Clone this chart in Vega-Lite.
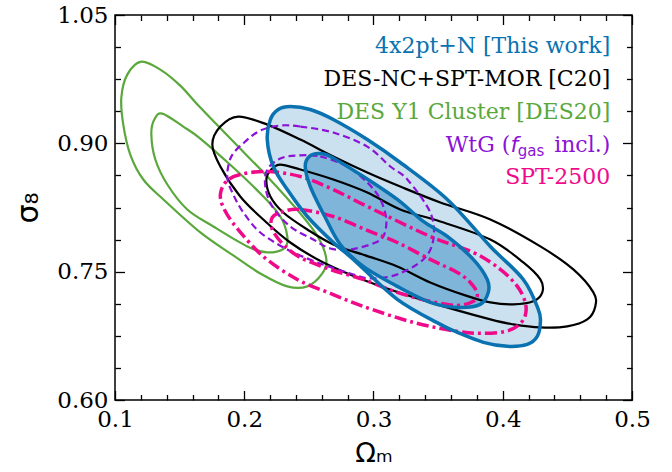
{
  "$schema": "https://vega.github.io/schema/vega-lite/v6.json",
  "width": 517,
  "height": 385,
  "autosize": "none",
  "padding": {"left": 115, "top": 15, "right": 40, "bottom": 72},
  "background": "white",
  "config": {
    "view": {"stroke": "black", "strokeWidth": 1.5},
    "axis": {"grid": false, "domain": false, "tickColor": "black", "tickWidth": 1.3, "labelFont": "DejaVu Serif", "labelFontSize": 23, "labelColor": "black", "titleColor": "black", "titleFontWeight": "normal", "labelFlush": false, "labelOverlap": false, "labelBound": false}
  },
  "datasets": {
    "contours": [
      {"c":"go","i":0,"om":0.1203,"s8":0.9955},{"c":"go","i":1,"om":0.1350,"s8":0.9862},{"c":"go","i":2,"om":0.1505,"s8":0.9675},{"c":"go","i":3,"om":0.1660,"s8":0.9418},{"c":"go","i":4,"om":0.1915,"s8":0.9021},{"c":"go","i":5,"om":0.2178,"s8":0.8612},{"c":"go","i":6,"om":0.2434,"s8":0.8180},{"c":"go","i":7,"om":0.2573,"s8":0.7900},{"c":"go","i":8,"om":0.2635,"s8":0.7643},{"c":"go","i":9,"om":0.2604,"s8":0.7479},{"c":"go","i":10,"om":0.2488,"s8":0.7328},{"c":"go","i":11,"om":0.2333,"s8":0.7328},{"c":"go","i":12,"om":0.2124,"s8":0.7479},{"c":"go","i":13,"om":0.1915,"s8":0.7690},{"c":"go","i":14,"om":0.1660,"s8":0.7958},{"c":"go","i":15,"om":0.1374,"s8":0.8344},{"c":"go","i":16,"om":0.1219,"s8":0.8577},{"c":"go","i":17,"om":0.1118,"s8":0.8869},{"c":"go","i":18,"om":0.1064,"s8":0.9219},{"c":"go","i":19,"om":0.1049,"s8":0.9535},{"c":"go","i":20,"om":0.1095,"s8":0.9803},
      {"c":"gi","i":0,"om":0.1366,"s8":0.9348},{"c":"gi","i":1,"om":0.1528,"s8":0.9196},{"c":"gi","i":2,"om":0.1660,"s8":0.9056},{"c":"gi","i":3,"om":0.1915,"s8":0.8717},{"c":"gi","i":4,"om":0.2140,"s8":0.8390},{"c":"gi","i":5,"om":0.2279,"s8":0.8145},{"c":"gi","i":6,"om":0.2333,"s8":0.7912},{"c":"gi","i":7,"om":0.2310,"s8":0.7771},{"c":"gi","i":8,"om":0.2178,"s8":0.7725},{"c":"gi","i":9,"om":0.2024,"s8":0.7795},{"c":"gi","i":10,"om":0.1761,"s8":0.8028},{"c":"gi","i":11,"om":0.1559,"s8":0.8227},{"c":"gi","i":12,"om":0.1405,"s8":0.8519},{"c":"gi","i":13,"om":0.1312,"s8":0.8811},{"c":"gi","i":14,"om":0.1281,"s8":0.9103},{"c":"gi","i":15,"om":0.1304,"s8":0.9278},
      {"c":"ko","i":0,"om":0.1954,"s8":0.9313},{"c":"ko","i":1,"om":0.2178,"s8":0.9219},{"c":"ko","i":2,"om":0.2434,"s8":0.9044},{"c":"ko","i":3,"om":0.2689,"s8":0.8846},{"c":"ko","i":4,"om":0.2952,"s8":0.8659},{"c":"ko","i":5,"om":0.3207,"s8":0.8495},{"c":"ko","i":6,"om":0.3517,"s8":0.8309},{"c":"ko","i":7,"om":0.3904,"s8":0.8110},{"c":"ko","i":8,"om":0.4291,"s8":0.7795},{"c":"ko","i":9,"om":0.4546,"s8":0.7526},{"c":"ko","i":10,"om":0.4701,"s8":0.7258},{"c":"ko","i":11,"om":0.4716,"s8":0.7094},{"c":"ko","i":12,"om":0.4654,"s8":0.6942},{"c":"ko","i":13,"om":0.4499,"s8":0.6861},{"c":"ko","i":14,"om":0.4291,"s8":0.6849},{"c":"ko","i":15,"om":0.4082,"s8":0.6884},{"c":"ko","i":16,"om":0.3904,"s8":0.6942},{"c":"ko","i":17,"om":0.3439,"s8":0.7141},{"c":"ko","i":18,"om":0.2975,"s8":0.7374},{"c":"ko","i":19,"om":0.2612,"s8":0.7608},{"c":"ko","i":20,"om":0.2356,"s8":0.7841},{"c":"ko","i":21,"om":0.2147,"s8":0.8110},{"c":"ko","i":22,"om":0.1969,"s8":0.8379},{"c":"ko","i":23,"om":0.1815,"s8":0.8729},{"c":"ko","i":24,"om":0.1753,"s8":0.8986},{"c":"ko","i":25,"om":0.1815,"s8":0.9196},
      {"c":"ki","i":0,"om":0.2279,"s8":0.8752},{"c":"ki","i":1,"om":0.2434,"s8":0.8694},{"c":"ki","i":2,"om":0.2689,"s8":0.8577},{"c":"ki","i":3,"om":0.2952,"s8":0.8425},{"c":"ki","i":4,"om":0.3207,"s8":0.8227},{"c":"ki","i":5,"om":0.3517,"s8":0.8087},{"c":"ki","i":6,"om":0.3904,"s8":0.7876},{"c":"ki","i":7,"om":0.4159,"s8":0.7608},{"c":"ki","i":8,"om":0.4291,"s8":0.7409},{"c":"ki","i":9,"om":0.4306,"s8":0.7258},{"c":"ki","i":10,"om":0.4236,"s8":0.7153},{"c":"ki","i":11,"om":0.4082,"s8":0.7117},{"c":"ki","i":12,"om":0.3904,"s8":0.7141},{"c":"ki","i":13,"om":0.3710,"s8":0.7223},{"c":"ki","i":14,"om":0.3439,"s8":0.7374},{"c":"ki","i":15,"om":0.3184,"s8":0.7561},{"c":"ki","i":16,"om":0.2937,"s8":0.7690},{"c":"ki","i":17,"om":0.2689,"s8":0.7818},{"c":"ki","i":18,"om":0.2488,"s8":0.7993},{"c":"ki","i":19,"om":0.2302,"s8":0.8192},{"c":"ki","i":20,"om":0.2202,"s8":0.8379},{"c":"ki","i":21,"om":0.2171,"s8":0.8577},{"c":"ki","i":22,"om":0.2209,"s8":0.8694},
      {"c":"bo","i":0,"om":0.2356,"s8":0.9430},{"c":"bo","i":1,"om":0.2511,"s8":0.9395},{"c":"bo","i":2,"om":0.2689,"s8":0.9278},{"c":"bo","i":3,"om":0.2952,"s8":0.9044},{"c":"bo","i":4,"om":0.3207,"s8":0.8776},{"c":"bo","i":5,"om":0.3571,"s8":0.8344},{"c":"bo","i":6,"om":0.3904,"s8":0.7795},{"c":"bo","i":7,"om":0.4159,"s8":0.7409},{"c":"bo","i":8,"om":0.4275,"s8":0.7059},{"c":"bo","i":9,"om":0.4291,"s8":0.6907},{"c":"bo","i":10,"om":0.4267,"s8":0.6744},{"c":"bo","i":11,"om":0.4190,"s8":0.6650},{"c":"bo","i":12,"om":0.4035,"s8":0.6627},{"c":"bo","i":13,"om":0.3850,"s8":0.6674},{"c":"bo","i":14,"om":0.3648,"s8":0.6791},{"c":"bo","i":15,"om":0.3517,"s8":0.6884},{"c":"bo","i":16,"om":0.3184,"s8":0.7176},{"c":"bo","i":17,"om":0.2844,"s8":0.7643},{"c":"bo","i":18,"om":0.2689,"s8":0.7841},{"c":"bo","i":19,"om":0.2488,"s8":0.8145},{"c":"bo","i":20,"om":0.2333,"s8":0.8460},{"c":"bo","i":21,"om":0.2225,"s8":0.8729},{"c":"bo","i":22,"om":0.2178,"s8":0.9044},{"c":"bo","i":23,"om":0.2202,"s8":0.9278},{"c":"bo","i":24,"om":0.2263,"s8":0.9395},
      {"c":"bi","i":0,"om":0.2573,"s8":0.8881},{"c":"bi","i":1,"om":0.2666,"s8":0.8846},{"c":"bi","i":2,"om":0.2921,"s8":0.8612},{"c":"bi","i":3,"om":0.3184,"s8":0.8344},{"c":"bi","i":4,"om":0.3385,"s8":0.8087},{"c":"bi","i":5,"om":0.3571,"s8":0.7912},{"c":"bi","i":6,"om":0.3772,"s8":0.7643},{"c":"bi","i":7,"om":0.3880,"s8":0.7409},{"c":"bi","i":8,"om":0.3888,"s8":0.7258},{"c":"bi","i":9,"om":0.3826,"s8":0.7117},{"c":"bi","i":10,"om":0.3648,"s8":0.7082},{"c":"bi","i":11,"om":0.3439,"s8":0.7141},{"c":"bi","i":12,"om":0.3184,"s8":0.7328},{"c":"bi","i":13,"om":0.2921,"s8":0.7561},{"c":"bi","i":14,"om":0.2743,"s8":0.7818},{"c":"bi","i":15,"om":0.2627,"s8":0.8133},{"c":"bi","i":16,"om":0.2511,"s8":0.8495},{"c":"bi","i":17,"om":0.2472,"s8":0.8729},{"c":"bi","i":18,"om":0.2503,"s8":0.8846},
      {"c":"po","i":0,"om":0.2279,"s8":0.9208},{"c":"po","i":1,"om":0.2434,"s8":0.9196},{"c":"po","i":2,"om":0.2689,"s8":0.9126},{"c":"po","i":3,"om":0.2952,"s8":0.8962},{"c":"po","i":4,"om":0.3130,"s8":0.8729},{"c":"po","i":5,"om":0.3262,"s8":0.8577},{"c":"po","i":6,"om":0.3439,"s8":0.8192},{"c":"po","i":7,"om":0.3463,"s8":0.7876},{"c":"po","i":8,"om":0.3385,"s8":0.7643},{"c":"po","i":9,"om":0.3184,"s8":0.7468},{"c":"po","i":10,"om":0.2975,"s8":0.7421},{"c":"po","i":11,"om":0.2820,"s8":0.7479},{"c":"po","i":12,"om":0.2565,"s8":0.7608},{"c":"po","i":13,"om":0.2333,"s8":0.7760},{"c":"po","i":14,"om":0.2124,"s8":0.7958},{"c":"po","i":15,"om":0.1993,"s8":0.8192},{"c":"po","i":16,"om":0.1915,"s8":0.8402},{"c":"po","i":17,"om":0.1869,"s8":0.8600},{"c":"po","i":18,"om":0.1900,"s8":0.8846},{"c":"po","i":19,"om":0.2008,"s8":0.9021},{"c":"po","i":20,"om":0.2124,"s8":0.9149},
      {"c":"pi","i":0,"om":0.2410,"s8":0.8857},{"c":"pi","i":1,"om":0.2588,"s8":0.8846},{"c":"pi","i":2,"om":0.2797,"s8":0.8729},{"c":"pi","i":3,"om":0.2952,"s8":0.8542},{"c":"pi","i":4,"om":0.3053,"s8":0.8344},{"c":"pi","i":5,"om":0.3099,"s8":0.8110},{"c":"pi","i":6,"om":0.3076,"s8":0.7912},{"c":"pi","i":7,"om":0.2998,"s8":0.7830},{"c":"pi","i":8,"om":0.2820,"s8":0.7760},{"c":"pi","i":9,"om":0.2666,"s8":0.7771},{"c":"pi","i":10,"om":0.2534,"s8":0.7876},{"c":"pi","i":11,"om":0.2356,"s8":0.8028},{"c":"pi","i":12,"om":0.2217,"s8":0.8262},{"c":"pi","i":13,"om":0.2163,"s8":0.8495},{"c":"pi","i":14,"om":0.2178,"s8":0.8694},{"c":"pi","i":15,"om":0.2279,"s8":0.8822},
      {"c":"so","i":0,"om":0.1969,"s8":0.8635},{"c":"so","i":1,"om":0.2178,"s8":0.8671},{"c":"so","i":2,"om":0.2434,"s8":0.8612},{"c":"so","i":3,"om":0.2689,"s8":0.8460},{"c":"so","i":4,"om":0.2952,"s8":0.8262},{"c":"so","i":5,"om":0.3439,"s8":0.7912},{"c":"so","i":6,"om":0.3772,"s8":0.7725},{"c":"so","i":7,"om":0.3981,"s8":0.7526},{"c":"so","i":8,"om":0.4113,"s8":0.7328},{"c":"so","i":9,"om":0.4174,"s8":0.7141},{"c":"so","i":10,"om":0.4174,"s8":0.6989},{"c":"so","i":11,"om":0.4120,"s8":0.6872},{"c":"so","i":12,"om":0.4020,"s8":0.6802},{"c":"so","i":13,"om":0.3850,"s8":0.6779},{"c":"so","i":14,"om":0.3648,"s8":0.6802},{"c":"so","i":15,"om":0.3308,"s8":0.6907},{"c":"so","i":16,"om":0.2921,"s8":0.7094},{"c":"so","i":17,"om":0.2666,"s8":0.7246},{"c":"so","i":18,"om":0.2410,"s8":0.7409},{"c":"so","i":19,"om":0.2147,"s8":0.7678},{"c":"so","i":20,"om":0.1946,"s8":0.8005},{"c":"so","i":21,"om":0.1846,"s8":0.8227},{"c":"so","i":22,"om":0.1815,"s8":0.8402},{"c":"so","i":23,"om":0.1861,"s8":0.8554},
      {"c":"si","i":0,"om":0.2302,"s8":0.8203},{"c":"si","i":1,"om":0.2434,"s8":0.8227},{"c":"si","i":2,"om":0.2689,"s8":0.8145},{"c":"si","i":3,"om":0.2952,"s8":0.7982},{"c":"si","i":4,"om":0.3184,"s8":0.7841},{"c":"si","i":5,"om":0.3439,"s8":0.7643},{"c":"si","i":6,"om":0.3648,"s8":0.7491},{"c":"si","i":7,"om":0.3749,"s8":0.7374},{"c":"si","i":8,"om":0.3803,"s8":0.7246},{"c":"si","i":9,"om":0.3772,"s8":0.7153},{"c":"si","i":10,"om":0.3648,"s8":0.7106},{"c":"si","i":11,"om":0.3439,"s8":0.7153},{"c":"si","i":12,"om":0.3184,"s8":0.7258},{"c":"si","i":13,"om":0.2921,"s8":0.7409},{"c":"si","i":14,"om":0.2666,"s8":0.7526},{"c":"si","i":15,"om":0.2434,"s8":0.7666},{"c":"si","i":16,"om":0.2302,"s8":0.7818},{"c":"si","i":17,"om":0.2217,"s8":0.7993},{"c":"si","i":18,"om":0.2217,"s8":0.8133}
    ],
    "labels": [
      {"p":"m","k":"b","t":"4x2pt+N [This work]","om":0.4832,"s8":1.0060},
      {"p":"m","k":"k","t":"DES-NC+SPT-MOR [C20]","om":0.4832,"s8":0.9675},
      {"p":"m","k":"g","t":"DES Y1 Cluster [DES20]","om":0.4832,"s8":0.9289},
      {"p":"w1","k":"p","t":"WtG (","om":0.4832,"s8":0.8904},
      {"p":"w2","k":"p","t":"f","om":0.4832,"s8":0.8904},
      {"p":"w3","k":"p","t":"gas","om":0.4832,"s8":0.8904},
      {"p":"w4","k":"p","t":"incl.)","om":0.4832,"s8":0.8904},
      {"p":"m","k":"s","t":"SPT-2500","om":0.4832,"s8":0.8519}
    ]
  },
  "data": {"name": "contours"},
  "encoding": {
    "x": {"field": "om", "type": "quantitative", "scale": {"domain": [0.1, 0.5], "nice": false, "zero": false}, "axis": null},
    "y": {"field": "s8", "type": "quantitative", "scale": {"domain": [0.6, 1.05], "nice": false, "zero": false}, "axis": null},
    "order": {"field": "i", "type": "quantitative"}
  },
  "resolve": {"axis": {"x": "independent", "y": "independent"}},
  "layer": [
    {"transform": [{"filter": "datum.c == 'bo'"}], "mark": {"type": "line", "interpolate": "cardinal-closed", "fill": "#cbe1ef", "strokeOpacity": 0}},
    {"transform": [{"filter": "datum.c == 'bi'"}], "mark": {"type": "line", "interpolate": "cardinal-closed", "fill": "#7fb5d9", "strokeOpacity": 0}},
    {"transform": [{"filter": "datum.c == 'go' || datum.c == 'gi'"}], "mark": {"type": "line", "interpolate": "cardinal-closed", "stroke": "#5aa83c", "strokeWidth": 2.2}, "encoding": {"detail": {"field": "c"}}},
    {"transform": [{"filter": "datum.c == 'ko' || datum.c == 'ki'"}], "mark": {"type": "line", "interpolate": "cardinal-closed", "stroke": "black", "strokeWidth": 2.2}, "encoding": {"detail": {"field": "c"}}},
    {"transform": [{"filter": "datum.c == 'po' || datum.c == 'pi'"}], "mark": {"type": "line", "interpolate": "cardinal-closed", "stroke": "#8b12d6", "strokeWidth": 2.2, "strokeDash": [7, 4]}, "encoding": {"detail": {"field": "c"}}},
    {"transform": [{"filter": "datum.c == 'so' || datum.c == 'si'"}], "mark": {"type": "line", "interpolate": "cardinal-closed", "stroke": "#f00a8a", "strokeWidth": 3.5, "strokeDash": [12, 4, 3, 4]}, "encoding": {"detail": {"field": "c"}}},
    {"transform": [{"filter": "datum.c == 'bo' || datum.c == 'bi'"}], "mark": {"type": "line", "interpolate": "cardinal-closed", "stroke": "#0a72b0", "strokeWidth": 3.5}, "encoding": {"detail": {"field": "c"}}},
    {"transform": [{"filter": "datum.c == 'go'"}], "mark": {"type": "point", "opacity": 0},
     "encoding": {
       "x": {"field": "om", "type": "quantitative", "scale": {"domain": [0.1, 0.5], "nice": false, "zero": false}, "axis": {"orient": "bottom", "values": [0.1, 0.2, 0.3, 0.4, 0.5], "format": ".1f", "tickSize": -9.5, "labelPadding": 17.5, "title": "Ωₘ", "titleFont": "DejaVu Sans", "titleFontSize": 27, "titlePadding": 9}},
       "y": {"field": "s8", "type": "quantitative", "scale": {"domain": [0.6, 1.05], "nice": false, "zero": false}, "axis": {"orient": "left", "values": [0.6, 0.75, 0.9, 1.05], "format": ".2f", "tickSize": -9.5, "labelPadding": 16.5, "title": "σ₈", "titleFont": "DejaVu Sans", "titleFontSize": 30, "titlePadding": 13}}
     }},
    {"transform": [{"filter": "datum.c == 'go'"}], "mark": {"type": "point", "opacity": 0},
     "encoding": {
       "x": {"field": "om", "type": "quantitative", "scale": {"domain": [0.1, 0.5], "nice": false, "zero": false}, "axis": {"orient": "bottom", "values": [0.12, 0.14, 0.16, 0.18, 0.22, 0.24, 0.26, 0.28, 0.32, 0.34, 0.36, 0.38, 0.42, 0.44, 0.46, 0.48], "labels": false, "tickSize": -5.5, "title": null}},
       "y": {"field": "s8", "type": "quantitative", "scale": {"domain": [0.6, 1.05], "nice": false, "zero": false}, "axis": {"orient": "left", "values": [0.6375, 0.675, 0.7125, 0.7875, 0.825, 0.8625, 0.9375, 0.975, 1.0125], "labels": false, "tickSize": -5.5, "title": null}}
     }},
    {"transform": [{"filter": "datum.c == 'go'"}], "mark": {"type": "point", "opacity": 0},
     "encoding": {
       "x": {"field": "om", "type": "quantitative", "scale": {"domain": [0.1, 0.5], "nice": false, "zero": false}, "axis": {"orient": "top", "values": [0.1, 0.2, 0.3, 0.4, 0.5], "labels": false, "tickSize": -9.5, "title": null}},
       "y": {"field": "s8", "type": "quantitative", "scale": {"domain": [0.6, 1.05], "nice": false, "zero": false}, "axis": {"orient": "right", "values": [0.6, 0.75, 0.9, 1.05], "labels": false, "tickSize": -9.5, "title": null}}
     }},
    {"transform": [{"filter": "datum.c == 'go'"}], "mark": {"type": "point", "opacity": 0},
     "encoding": {
       "x": {"field": "om", "type": "quantitative", "scale": {"domain": [0.1, 0.5], "nice": false, "zero": false}, "axis": {"orient": "top", "values": [0.12, 0.14, 0.16, 0.18, 0.22, 0.24, 0.26, 0.28, 0.32, 0.34, 0.36, 0.38, 0.42, 0.44, 0.46, 0.48], "labels": false, "tickSize": -5.5, "title": null}},
       "y": {"field": "s8", "type": "quantitative", "scale": {"domain": [0.6, 1.05], "nice": false, "zero": false}, "axis": {"orient": "right", "values": [0.6375, 0.675, 0.7125, 0.7875, 0.825, 0.8625, 0.9375, 0.975, 1.0125], "labels": false, "tickSize": -5.5, "title": null}}
     }},
    {"data": {"name": "labels"}, "transform": [{"filter": "datum.p == 'm'"}], "mark": {"type": "text", "align": "right", "baseline": "alphabetic", "font": "DejaVu Serif", "fontSize": 22},
     "encoding": {"text": {"field": "t"}, "color": {"field": "k", "type": "nominal", "scale": {"domain": ["b", "k", "g", "p", "s"], "range": ["#0a72b0", "#000000", "#5aa83c", "#8b12d6", "#f00a8a"]}, "legend": null}}},
    {"data": {"name": "labels"}, "transform": [{"filter": "datum.p == 'w1'"}], "mark": {"type": "text", "align": "right", "baseline": "alphabetic", "font": "DejaVu Serif", "fontSize": 22, "dx": -100, "color": "#8b12d6"}, "encoding": {"text": {"field": "t"}}},
    {"data": {"name": "labels"}, "transform": [{"filter": "datum.p == 'w2'"}], "mark": {"type": "text", "align": "right", "baseline": "alphabetic", "font": "DejaVu Sans", "fontStyle": "italic", "fontSize": 22, "dx": -92, "color": "#8b12d6"}, "encoding": {"text": {"field": "t"}}},
    {"data": {"name": "labels"}, "transform": [{"filter": "datum.p == 'w3'"}], "mark": {"type": "text", "align": "right", "baseline": "alphabetic", "font": "DejaVu Sans", "fontSize": 15, "dx": -66, "dy": 4, "color": "#8b12d6"}, "encoding": {"text": {"field": "t"}}},
    {"data": {"name": "labels"}, "transform": [{"filter": "datum.p == 'w4'"}], "mark": {"type": "text", "align": "right", "baseline": "alphabetic", "font": "DejaVu Serif", "fontSize": 22, "color": "#8b12d6"}, "encoding": {"text": {"field": "t"}}}
  ]
}
